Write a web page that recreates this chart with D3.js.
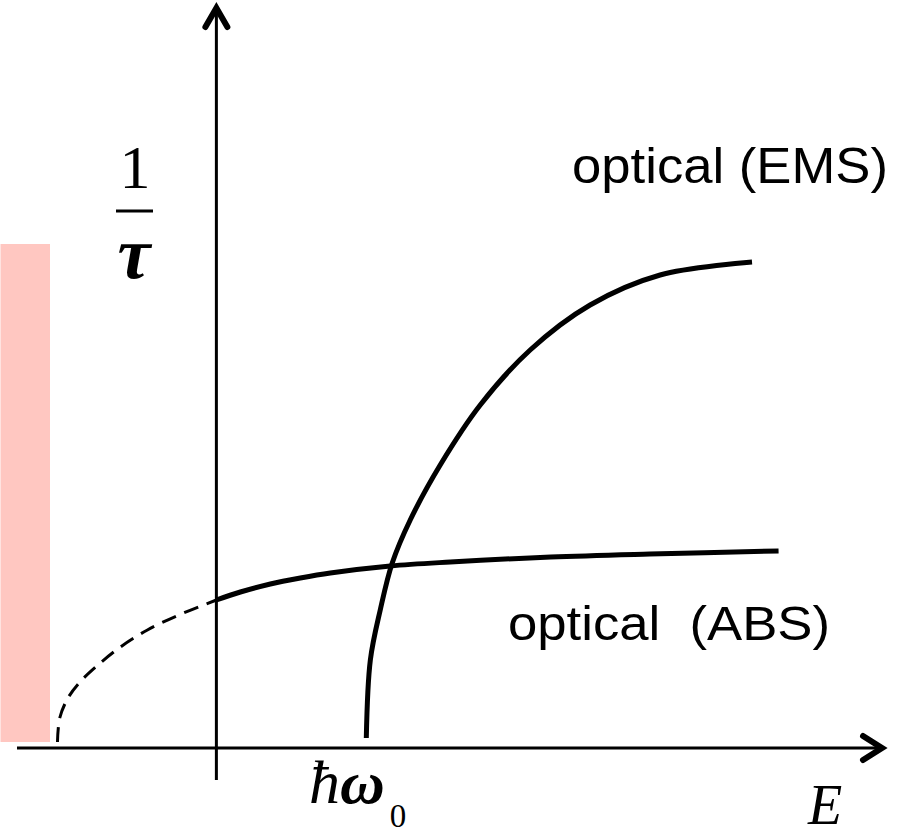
<!DOCTYPE html>
<html>
<head>
<meta charset="utf-8">
<script src="https://cdn.jsdelivr.net/npm/d3@7"></script>
<style>
  body { margin: 0; background: #fff; }
  .lbl { font-family: "Liberation Sans", Arial, sans-serif; }
  .math { font-family: "Liberation Serif", "Times New Roman", serif; font-style: italic; }
</style>
</head>
<body>
<div id="chart"></div>
<script>
// energy in units of hbar*omega0, rate in arbitrary units
let absDashE = [-1.06, -1.045, -0.99, -0.91, -0.79, -0.64, -0.46, -0.25, 0];
let absDashV = [0.06, 0.30, 0.50, 0.66, 0.83, 1.01, 1.18, 1.33, 1.48];

let absE = [0, 0.16, 0.36, 0.56, 0.76, 1.16, 1.56, 2.23, 2.89, 3.75];
let absV = [1.48, 1.56, 1.64, 1.70, 1.75, 1.82, 1.86, 1.91, 1.94, 1.97];

let emsE = [1.0, 1.027, 1.093, 1.173, 1.293, 1.493, 1.76, 2.093, 2.493, 2.96, 3.573];
let emsV = [0.10, 0.88, 1.38, 1.85, 2.28, 2.83, 3.43, 3.98, 4.43, 4.73, 4.86];

// shaded band on the left
let bandE = [-1.44, -1.11];
let bandV = [0.06, 5.04];

let width = 903;
let height = 835;

let x = d3.scaleLinear().domain([-1.33, 4.44]).range([17, 882]);
let y = d3.scaleLinear().domain([0, 7.4]).range([748, 8]);

let svg = d3.select('#chart').append('svg')
    .attr('width', width)
    .attr('height', height);

svg.append('rect')
    .attr('x', x(bandE[0]))
    .attr('y', y(bandV[1]))
    .attr('width', x(bandE[1]) - x(bandE[0]))
    .attr('height', y(bandV[0]) - y(bandV[1]))
    .attr('fill', '#ffc7c1');

// axes
let g = svg.append('g');
g.append('line')
    .attr('x1', x(-1.33)).attr('x2', x(4.42))
    .attr('y1', y(0)).attr('y2', y(0))
    .attr('stroke', '#000').attr('stroke-width', 3);
g.append('line')
    .attr('x1', x(0)).attr('x2', x(0))
    .attr('y1', y(-0.32)).attr('y2', y(7.37))
    .attr('stroke', '#000').attr('stroke-width', 3);

// arrow heads
let tipX = [x(4.44), y(0)];
g.append('path')
    .attr('d', `M${tipX[0] - 19},${tipX[1] - 12} L${tipX[0]},${tipX[1]} L${tipX[0] - 19},${tipX[1] + 12}`)
    .attr('fill', 'none').attr('stroke', '#000').attr('stroke-width', 6)
    .attr('stroke-linecap', 'round').attr('stroke-linejoin', 'miter');
let tipY = [x(0), y(7.4)];
g.append('path')
    .attr('d', `M${tipY[0] - 11},${tipY[1] + 19} L${tipY[0]},${tipY[1]} L${tipY[0] + 11},${tipY[1] + 19}`)
    .attr('fill', 'none').attr('stroke', '#000').attr('stroke-width', 6)
    .attr('stroke-linecap', 'round').attr('stroke-linejoin', 'miter');

let line = d3.line()
    .curve(d3.curveCatmullRom.alpha(0.5))
    .x(d => x(d[0]))
    .y(d => y(d[1]));

svg.append('path')
    .attr('d', line(d3.zip(absDashE, absDashV)))
    .attr('fill', 'none').attr('stroke', '#000')
    .attr('stroke-width', 3).attr('stroke-dasharray', '15,9');

svg.append('path')
    .attr('d', line(d3.zip(absE, absV)))
    .attr('fill', 'none').attr('stroke', '#000').attr('stroke-width', 5);

svg.append('path')
    .attr('d', line(d3.zip(emsE, emsV)))
    .attr('fill', 'none').attr('stroke', '#000').attr('stroke-width', 5);

// labels
svg.append('text').attr('class', 'lbl')
    .attr('x', 572).attr('y', 183)
    .attr('font-size', 50)
    .attr('textLength', 316).attr('lengthAdjust', 'spacingAndGlyphs')
    .text('optical (EMS)');

svg.append('text').attr('class', 'lbl')
    .attr('x', 508).attr('y', 640)
    .attr('font-size', 48)
    .attr('textLength', 322).attr('lengthAdjust', 'spacingAndGlyphs')
    .style('white-space', 'pre')
    .text('optical  (ABS)');

// 1/tau
svg.append('text')
    .attr('x', 135).attr('y', 188)
    .attr('text-anchor', 'middle')
    .attr('font-family', '"Liberation Serif", serif')
    .attr('font-size', 62)
    .text('1');
svg.append('line')
    .attr('x1', 116).attr('x2', 153)
    .attr('y1', 211).attr('y2', 211)
    .attr('stroke', '#000').attr('stroke-width', 3);
svg.append('text').attr('class', 'math')
    .attr('x', 134).attr('y', 278)
    .attr('text-anchor', 'middle')
    .attr('font-size', 74)
    .attr('font-weight', 'bold')
    .text('τ');

// hbar omega_0
let hw = svg.append('text').attr('class', 'math')
    .attr('x', 309).attr('y', 803)
    .attr('font-size', 62);
hw.append('tspan').text('ħ');
hw.append('tspan').attr('font-weight', 'bold').text('ω');
hw.append('tspan').attr('font-style', 'normal').attr('font-size', 33)
    .attr('dx', 5).attr('dy', 24).text('0');

svg.append('text').attr('class', 'math')
    .attr('x', 808).attr('y', 824)
    .attr('font-size', 56)
    .text('E');
</script>
</body>
</html>
